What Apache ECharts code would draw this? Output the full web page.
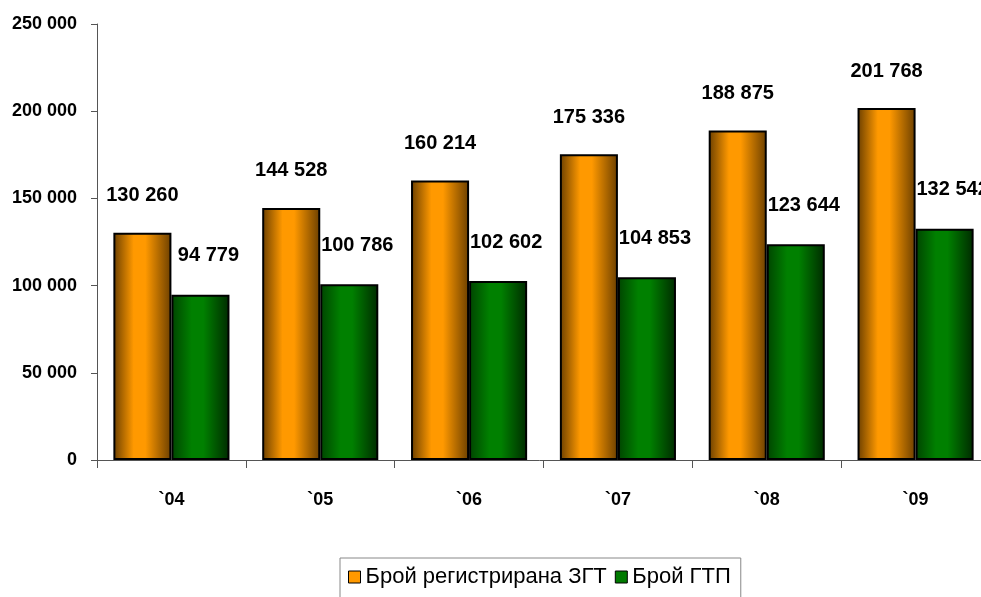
<!DOCTYPE html>
<html>
<head>
<meta charset="utf-8">
<script src="https://cdn.jsdelivr.net/npm/echarts@6/dist/echarts.min.js"></script>
<style>
  html, body { margin: 0; padding: 0; background: #fff; }
  #chart { width: 981px; height: 597px; }
</style>
</head>
<body>
<div id="chart"></div>
<script>
// Categories (years) and the two series
const years = ['`04', '`05', '`06', '`07', '`08', '`09'];
const registeredZGT = [130260, 144528, 160214, 175336, 188875, 201768];
const countGTP = [94779, 100786, 102602, 104853, 123644, 132542];
const seriesNames = ['Брой регистрирана ЗГТ', 'Брой ГТП'];

const fmt = v => String(v).replace(/\B(?=(\d{3})+(?!\d))/g, ' ');
const boldFont = '"Liberation Sans", Arial, sans-serif';

function hGrad(edgeL, mid, edgeR) {
  return new echarts.graphic.LinearGradient(0, 0, 1, 0, [
    { offset: 0, color: edgeL },
    { offset: 0.35, color: mid },
    { offset: 0.55, color: mid },
    { offset: 1, color: edgeR }
  ]);
}

const chart = echarts.init(document.getElementById('chart'), null, { renderer: 'canvas' });
chart.setOption({
  animation: false,
  backgroundColor: '#ffffff',
  // plot area runs slightly past the right edge of the canvas
  grid: { left: 97, right: -9, top: 24, bottom: 137, outerBoundsMode: 'none', containLabel: false },
  legend: {
    left: 340, top: 558,
    itemWidth: 12, itemHeight: 12, itemGap: 8,
    padding: [8, 10, 12, 8],
    borderColor: '#888', borderWidth: 1,
    textStyle: { fontFamily: '"Liberation Sans", Arial, sans-serif', fontSize: 22, color: '#000' },
    data: [
      { name: seriesNames[0], icon: 'rect', itemStyle: { color: '#ff9900', borderColor: '#000', borderWidth: 1 } },
      { name: seriesNames[1], icon: 'rect', itemStyle: { color: '#007a00', borderColor: '#000', borderWidth: 1 } }
    ]
  },
  xAxis: {
    type: 'category',
    data: years,
    axisLine: { lineStyle: { color: '#555', width: 1 } },
    axisTick: { show: true, length: 8, lineStyle: { color: '#555' } },
    axisLabel: { margin: 31, fontFamily: boldFont, fontWeight: 'bold', fontSize: 18, color: '#000' }
  },
  yAxis: {
    type: 'value',
    min: 0, max: 250000, interval: 50000,
    splitLine: { show: false },
    axisLine: { show: true, lineStyle: { color: '#555', width: 1 } },
    axisTick: { show: true, length: 6, lineStyle: { color: '#555' } },
    axisLabel: { margin: 20, formatter: fmt, fontFamily: boldFont, fontWeight: 'bold', fontSize: 18, color: '#000' }
  },
  series: [
    {
      name: seriesNames[0],
      type: 'bar',
      data: registeredZGT,
      barGap: '0%',
      barCategoryGap: '22%',
      itemStyle: { color: hGrad('#6b3f00', '#ff9900', '#6b3f00'), borderColor: '#000', borderWidth: 2 },
      label: {
        show: true, position: 'top', distance: 27,
        formatter: p => fmt(p.value),
        fontFamily: boldFont, fontWeight: 'bold', fontSize: 20, color: '#000'
      }
    },
    {
      name: seriesNames[1],
      type: 'bar',
      data: countGTP,
      itemStyle: { color: hGrad('#004400', '#008000', '#002a00'), borderColor: '#000', borderWidth: 2 },
      label: {
        show: true, position: 'top', distance: 29, offset: [8, 0],
        formatter: p => fmt(p.value),
        fontFamily: boldFont, fontWeight: 'bold', fontSize: 20, color: '#000'
      }
    }
  ]
});
</script>
</body>
</html>
